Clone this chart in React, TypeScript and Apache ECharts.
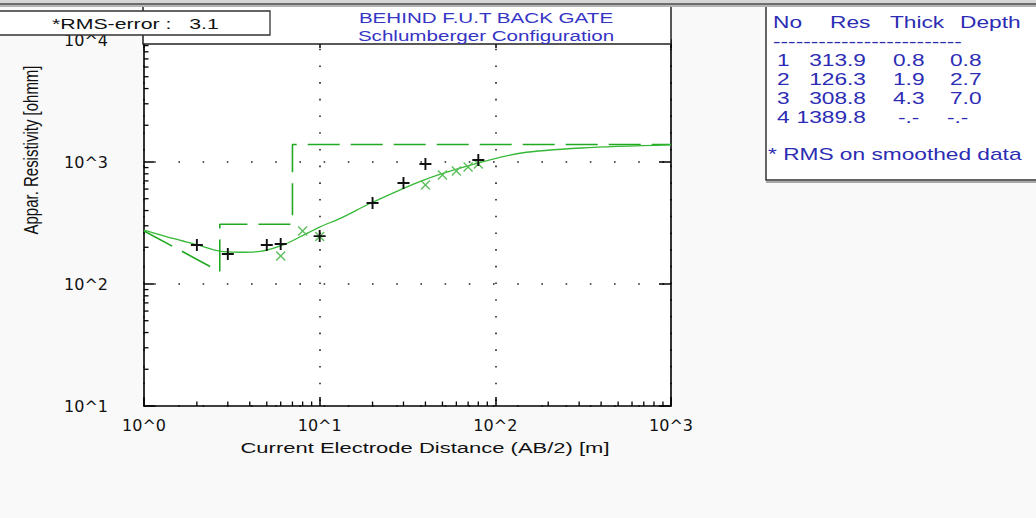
import React, { useEffect, useRef } from "react";
import * as echarts from "echarts";

// ---------- data ----------
const X_MIN = 1;
const X_MAX = 1000;
const Y_MIN = 10;
const Y_MAX = 10000;
const MINOR_STEPS = [2, 3, 4, 5, 6, 7, 8, 9];
const X_DECADES = [1, 10, 100];
const Y_DECADES = [10, 100, 1000];

// observed field data (+)
const OBS_X = [2, 3, 5, 6, 10, 20, 30, 40, 80];
const OBS_Y = [209, 176, 209, 213, 247, 461, 673, 963, 1038];

// smoothed data (x)
const SMOOTH_X = [6, 8, 10, 40, 50, 60, 70, 80];
const SMOOTH_Y = [170, 272, 245, 647, 782, 844, 910, 963];

// calculated curve (solid)
const CURVE_X = [1, 1.5, 2, 2.7, 3.5, 4.6, 6.2, 7.8, 10, 13.2, 19.6, 37.8, 73, 141, 310, 1000];
const CURVE_Y = [277, 234, 210, 186, 182, 185, 209, 245, 293, 347, 461, 698, 945, 1185, 1303, 1380];

// layered model (dashed)
const MODEL_X = [1, 2.7, 2.7, 7.0, 7.0, 1000];
const MODEL_Y = [272, 126.3, 308.8, 308.8, 1389.8, 1389.8];

// table
const TABLE_HEADER = ["No", "Res", "Thick", "Depth"];
const LAYER_NO = ["1", "2", "3", "4"];
const LAYER_RES = ["313.9", "126.3", "308.8", "1389.8"];
const LAYER_THICK = ["0.8", "1.9", "4.3", "-.-"];
const LAYER_DEPTH = ["0.8", "2.7", "7.0", "-.-"];
const TABLE_RULE = "-------------------------";
const TABLE_NOTE = "* RMS on smoothed data";

const TITLE_LINES = ["BEHIND F.U.T BACK GATE", "Schlumberger Configuration"];
const RMS_TEXT = "*RMS-error :   3.1";
const X_NAME = "Current Electrode Distance (AB/2) [m]";
const Y_NAME = "Appar. Resistivity [ohmm]";

// ---------- styling ----------
const SX = 1.42;
const FONT = "Liberation Sans";
const TITLE_COLOR = "#3535c5";
const TABLE_COLOR = "#2c2cb4";
const GREEN_CURVE = "#35b835";
const GREEN_MODEL = "#22a922";
const GREEN_X = "#5cc05c";

const PLUS_PATH = "path://M4.2,0 H5.8 V4.2 H10 V5.8 H5.8 V10 H4.2 V5.8 H0 V4.2 H4.2 Z";
const CROSS_PATH = "path://M0,1 L1,0 L5,4 L9,0 L10,1 L6,5 L10,9 L9,10 L5,6 L1,10 L0,9 L4,5 Z";

const zip = (xs: number[], ys: number[]) => xs.map((x, i) => [x, ys[i]]);
const pow10Label = (v: number) => "10^" + Math.round(Math.log10(v));

function txt(
  text: string,
  x: number,
  y: number,
  size: number,
  fill: string,
  align: string = "left",
  extra: any = {}
) {
  return {
    type: "text",
    x,
    y,
    scaleX: SX,
    z: 110,
    silent: true,
    style: {
      text,
      fill,
      fontSize: size,
      fontFamily: FONT,
      textAlign: align,
      textVerticalAlign: "middle",
    },
    ...extra,
  };
}

function buildOption() {
  const xMinor: number[][] = [];
  X_DECADES.forEach((d) => MINOR_STEPS.forEach((m) => xMinor.push([d * m, Y_MIN])));
  const yMinor: number[][] = [];
  Y_DECADES.forEach((d) => MINOR_STEPS.forEach((m) => yMinor.push([X_MIN, d * m])));

  const tableRowsY = [60, 79, 98, 117];
  const tableTexts: any[] = [];
  tableTexts.push(txt(TABLE_HEADER[0], 773, 22, 16, TABLE_COLOR));
  tableTexts.push(txt(TABLE_HEADER[1], 830, 22, 16, TABLE_COLOR));
  tableTexts.push(txt(TABLE_HEADER[2], 890, 22, 16, TABLE_COLOR));
  tableTexts.push(txt(TABLE_HEADER[3], 960, 22, 16, TABLE_COLOR));
  tableTexts.push(txt(TABLE_RULE, 773, 41, 16, TABLE_COLOR));
  tableRowsY.forEach((y, i) => {
    tableTexts.push(txt(LAYER_NO[i], 777, y, 16, TABLE_COLOR));
    tableTexts.push(txt(LAYER_RES[i], 866, y, 16, TABLE_COLOR, "right"));
    tableTexts.push(txt(LAYER_THICK[i], LAYER_THICK[i] === "-.-" ? 898 : 893, y, 16, TABLE_COLOR));
    tableTexts.push(txt(LAYER_DEPTH[i], LAYER_DEPTH[i] === "-.-" ? 947 : 950, y, 16, TABLE_COLOR));
  });
  tableTexts.push(txt(TABLE_NOTE, 768, 154, 16, TABLE_COLOR));

  const axisLine = { show: true, onZero: false, lineStyle: { color: "#000", width: 1.6 } };

  return {
    animation: false,
    backgroundColor: "#f9f9f9",
    grid: {
      left: 144,
      top: 40,
      width: 527,
      height: 366,
      show: true,
      backgroundColor: "#ffffff",
      borderWidth: 0,
      containLabel: false,
      outerBoundsMode: "none",
    },
    xAxis: [
      {
        type: "log",
        logBase: 10,
        min: X_MIN,
        max: X_MAX,
        position: "bottom",
        axisLine,
        axisTick: { show: true, inside: true, length: 9, lineStyle: { color: "#000", width: 1.5 } },
        axisLabel: {
          formatter: pow10Label,
          margin: 11,
          fontFamily: "DejaVu Sans",
          fontSize: 16,
          color: "#111",
        },
        splitLine: {
          show: true,
          lineStyle: { color: "#222", width: 1.6, type: [1.6, 15.1], dashOffset: 8 },
        },
      },
      {
        type: "log",
        logBase: 10,
        min: X_MIN,
        max: X_MAX,
        position: "top",
        axisLine,
        axisTick: { show: true, inside: true, length: 8, lineStyle: { color: "#000", width: 1.5 } },
        axisLabel: { show: false },
        splitLine: { show: false },
      },
    ],
    yAxis: [
      {
        type: "log",
        logBase: 10,
        min: Y_MIN,
        max: Y_MAX,
        position: "left",
        axisLine,
        axisTick: { show: true, inside: true, length: 10, lineStyle: { color: "#000", width: 1.5 } },
        axisLabel: {
          formatter: pow10Label,
          margin: 36,
          fontFamily: "DejaVu Sans",
          fontSize: 16,
          color: "#111",
        },
        splitLine: {
          show: true,
          lineStyle: { color: "#222", width: 1.6, type: [1.6, 22.6], dashOffset: 14.4 },
        },
      },
      {
        type: "log",
        logBase: 10,
        min: Y_MIN,
        max: Y_MAX,
        position: "right",
        axisLine,
        axisTick: { show: true, inside: true, length: 12, lineStyle: { color: "#000", width: 1.5 } },
        axisLabel: { show: false },
        splitLine: { show: false },
      },
    ],
    series: [
      {
        name: "Model",
        type: "line",
        data: zip(MODEL_X, MODEL_Y),
        showSymbol: false,
        symbol: "none",
        lineStyle: { color: GREEN_MODEL, width: 1.6, type: [32, 11] },
        z: 3,
        silent: true,
      },
      {
        name: "Calculated",
        type: "line",
        data: zip(CURVE_X, CURVE_Y),
        smooth: 0.3,
        showSymbol: false,
        symbol: "none",
        lineStyle: { color: GREEN_CURVE, width: 1.3 },
        z: 4,
        silent: true,
      },
      {
        name: "Smoothed",
        type: "scatter",
        data: zip(SMOOTH_X, SMOOTH_Y),
        symbol: CROSS_PATH,
        symbolSize: 10,
        itemStyle: { color: GREEN_X, opacity: 1 },
        z: 5,
        silent: true,
      },
      {
        name: "Observed",
        type: "scatter",
        data: zip(OBS_X, OBS_Y),
        symbol: PLUS_PATH,
        symbolSize: 12,
        itemStyle: { color: "#111", opacity: 1 },
        z: 6,
        silent: true,
      },
      {
        name: "xMinorTicks",
        type: "custom",
        coordinateSystem: "cartesian2d",
        data: xMinor,
        clip: false,
        silent: true,
        z: 7,
        renderItem: (_p: any, api: any) => {
          const pt = api.coord([api.value(0), Y_MIN]);
          return {
            type: "line",
            shape: { x1: pt[0], y1: pt[1], x2: pt[0], y2: pt[1] - 4.5 },
            style: { stroke: "#000", lineWidth: 1.3 },
          };
        },
      },
      {
        name: "yMinorTicks",
        type: "custom",
        coordinateSystem: "cartesian2d",
        data: yMinor,
        clip: false,
        silent: true,
        z: 7,
        renderItem: (_p: any, api: any) => {
          const pt = api.coord([X_MIN, api.value(1)]);
          return {
            type: "line",
            shape: { x1: pt[0], y1: pt[1], x2: pt[0] + 4.5, y2: pt[1] },
            style: { stroke: "#000", lineWidth: 1.3 },
          };
        },
      },
    ],
    graphic: [
      // title box
      {
        type: "rect",
        z: 100,
        silent: true,
        shape: { x: 143, y: 6, width: 528, height: 38 },
        style: { fill: "#ffffff", stroke: "#222", lineWidth: 1.5 },
      },
      txt(TITLE_LINES[0], 486, 18, 14.5, TITLE_COLOR, "center"),
      txt(TITLE_LINES[1], 486, 36, 14.5, TITLE_COLOR, "center"),
      // RMS box
      {
        type: "rect",
        z: 100,
        silent: true,
        shape: { x: -2, y: 11, width: 272, height: 24 },
        style: { fill: "#ffffff", stroke: "#333", lineWidth: 1.3 },
      },
      txt(RMS_TEXT, 52, 24, 15, "#111"),
      // table box
      {
        type: "rect",
        z: 100,
        silent: true,
        shape: { x: 766, y: 4, width: 300, height: 176 },
        style: { fill: "#ffffff", stroke: "#333", lineWidth: 1.5 },
      },
      {
        type: "rect",
        z: 100,
        silent: true,
        shape: { x: 766, y: 181, width: 300, height: 2 },
        style: { fill: "#a8a8a8" },
      },
      ...tableTexts,
      // axis titles
      txt(X_NAME, 425, 448, 15.5, "#111", "center"),
      {
        type: "text",
        x: 31,
        y: 150,
        rotation: Math.PI / 2,
        scaleY: 1.3,
        z: 110,
        silent: true,
        style: {
          text: Y_NAME,
          fill: "#111",
          fontSize: 15,
          fontFamily: FONT,
          textAlign: "center",
          textVerticalAlign: "middle",
        },
      },
      // window frame strip at top
      {
        type: "rect",
        z: 120,
        silent: true,
        shape: { x: 0, y: 0, width: 1036, height: 3 },
        style: { fill: "#d6d6d6" },
      },
      {
        type: "rect",
        z: 120,
        silent: true,
        shape: { x: 0, y: 3, width: 1036, height: 2 },
        style: { fill: "#6c6c6c" },
      },
      {
        type: "rect",
        z: 120,
        silent: true,
        shape: { x: 0, y: 5, width: 1036, height: 2 },
        style: { fill: "#b4b4b4" },
      },
    ],
  };
}

export default function App() {
  const ref = useRef<HTMLDivElement>(null);
  useEffect(() => {
    if (!ref.current) return;
    const chart = echarts.init(ref.current, null, { renderer: "svg" });
    chart.setOption(buildOption() as any);
    return () => chart.dispose();
  }, []);
  return (
    <div
      ref={ref}
      style={{ position: "fixed", left: 0, top: 0, width: 1036, height: 518 }}
    />
  );
}
